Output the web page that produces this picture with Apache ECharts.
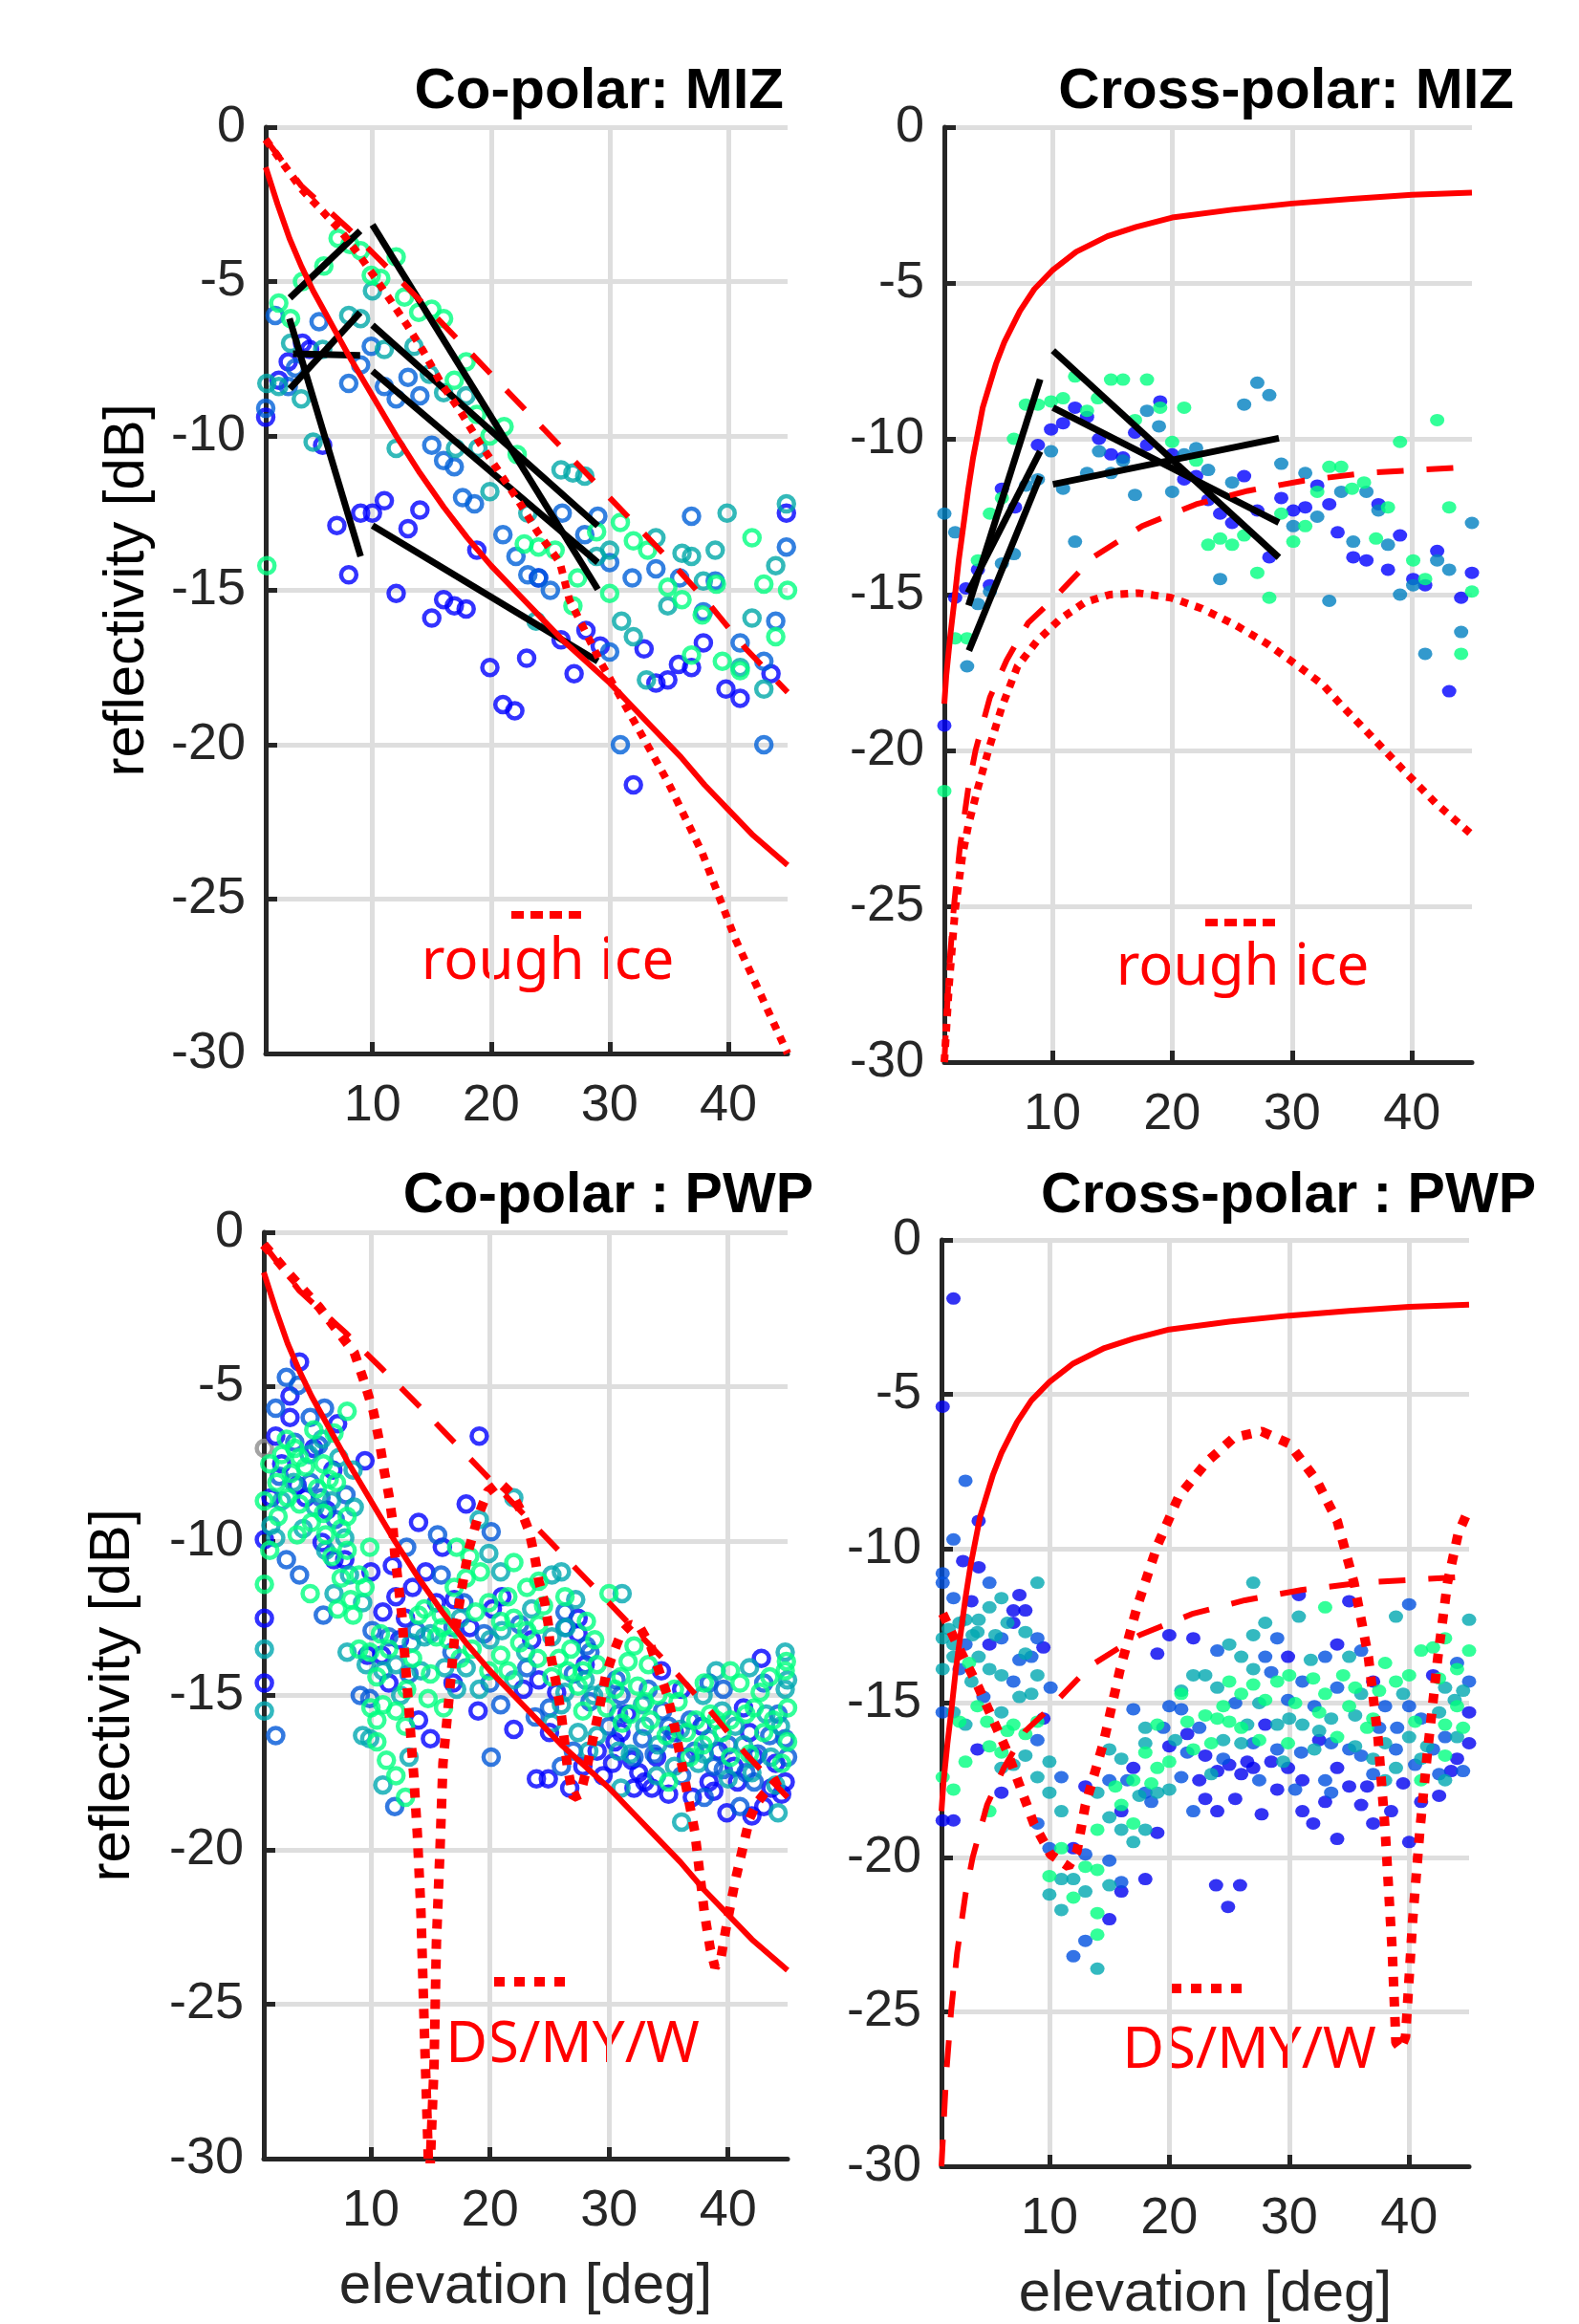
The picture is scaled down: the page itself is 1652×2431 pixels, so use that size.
<!DOCTYPE html>
<html><head><meta charset="utf-8">
<script src="https://cdn.jsdelivr.net/npm/echarts@6/dist/echarts.min.js"></script>
<style>html,body{margin:0;padding:0;background:#fff}#c{width:1652px;height:2431px}</style>
</head><body><div id="c"></div>
<script>
// ---------- ticks ----------
const xTicks = [10, 20, 30, 40];
const titles = ['Co-polar: MIZ', 'Cross-polar: MIZ', 'Co-polar : PWP', 'Cross-polar : PWP'];

// ---------- model curves [elevation, dB] ----------
const coSolid = [[1,-1.3],[2,-2.5],[3,-3.6],[4,-4.5],[5,-5.3],[6,-6.0],[7,-6.7],[8,-7.4],[10,-8.7],[12,-10.0],[14,-11.2],[16,-12.3],[18,-13.3],[20,-14.2],[22,-15.0],[24,-15.8],[26,-16.6],[28,-17.3],[30,-18.0],[32,-18.8],[34,-19.6],[36,-20.4],[38,-21.3],[40,-22.1],[42,-22.9],[45,-23.9]];
const coDashed = [[1,-0.4],[4,-1.9],[8,-3.3],[11,-4.45],[14.5,-5.8],[18,-7.2],[21,-8.4],[24.5,-9.8],[28,-11.2],[32,-12.8],[35,-14],[38.5,-15.5],[41.5,-16.9],[45,-18.3]];
const coDottedRough = [[1,-0.4],[4,-2.0],[7.2,-3.3],[8.8,-4.1],[10.2,-4.86],[11.5,-5.6],[12.9,-6.4],[14.2,-7.2],[15.8,-8.3],[17.4,-9.2],[19,-10.2],[20.65,-11.15],[22.3,-12.1],[23.9,-13.1],[25.8,-14.1],[26.6,-15.3],[29.2,-17.3],[32,-19.2],[34.9,-21.2],[37.8,-23.5],[40.6,-26.3],[45,-30]];
const crossSolid = [[1,-18.5],[1.16,-17.6],[1.5,-16.3],[1.82,-15.25],[2.2,-13.9],[2.62,-12.7],[3,-11.6],[3.4,-10.6],[4.2,-9.0],[5.3,-7.6],[6,-6.9],[7.3,-5.9],[8.5,-5.2],[10,-4.6],[12,-4.0],[14.6,-3.5],[17,-3.2],[20,-2.9],[25,-2.65],[30,-2.45],[35,-2.3],[40,-2.17],[45,-2.1]];
const crossDashed = [[1,-30],[1.4,-27],[1.8,-25],[2.3,-23.1],[3,-21.2],[3.6,-20],[4.8,-18.3],[6.2,-17.1],[8,-15.9],[10.2,-15.1],[13.4,-13.8],[17.5,-12.8],[22,-12.1],[26.3,-11.67],[31,-11.34],[36,-11.1],[40.5,-11.0],[45,-10.9]];
const crossDottedRough = [[1,-30],[1.4,-27.5],[1.9,-25.1],[2.5,-23.4],[3,-22.4],[3.8,-21.2],[4.75,-19.9],[5.8,-18.6],[7.1,-17.3],[8.7,-16.5],[10.6,-15.8],[12.7,-15.25],[14.8,-15.0],[17.2,-14.95],[19.9,-15.1],[22.5,-15.45],[25.2,-15.96],[27.9,-16.57],[30.5,-17.29],[32.6,-17.9],[34,-18.5],[36.5,-19.5],[39.2,-20.6],[42,-21.7],[45,-22.7]];
const coDottedPWP = [[1,-0.4],[3,-1.3],[5.6,-2.4],[7.5,-3.35],[8.6,-3.9],[9.4,-4.8],[10.2,-5.8],[10.7,-6.75],[11.1,-7.7],[11.5,-8.5],[11.8,-9.3],[12.0,-10.4],[12.3,-11.4],[12.6,-12.4],[12.8,-13.5],[13.0,-14.5],[13.2,-15.5],[13.4,-16.6],[13.6,-17.6],[13.9,-19.5],[14.2,-22],[14.5,-26],[14.9,-31],[15.3,-27],[15.5,-23],[15.8,-20],[16.05,-17.2],[16.6,-14.9],[17.1,-12.8],[17.65,-11.5],[18.2,-10.3],[19,-9.2],[19.8,-8.4],[20.8,-8.1],[21.9,-8.5],[22.7,-9.1],[23.3,-9.7],[23.8,-10.6],[24.1,-11.3],[24.6,-12.0],[24.9,-12.7],[25.1,-13.7],[25.55,-14.6],[25.95,-15.5],[26.2,-16.3],[26.5,-17.3],[27,-18.3],[27.6,-18.2],[28.1,-17.4],[28.6,-16.5],[29.2,-15.4],[29.7,-14.4],[30.2,-13.8],[31.0,-13.0],[31.8,-12.7],[32.6,-12.8],[33.5,-13.4],[34.2,-14.2],[34.9,-15],[35.5,-16],[36,-17],[36.6,-18.2],[37.2,-19.4],[37.6,-20.7],[38,-22],[38.5,-23.2],[38.9,-23.8],[39.4,-23.5],[39.8,-22.6],[40.2,-21.8],[40.6,-21],[41.2,-20],[41.8,-19],[42.4,-18.5],[43,-18.2],[44,-17.8],[45,-17.6]];
const crossDottedPWP = [[1.1,-12.1],[2.3,-13.1],[4.1,-14.5],[6.4,-16.5],[8.7,-18.9],[10.1,-19.9],[11.6,-20.3],[12.3,-19.8],[13,-18.3],[14.5,-16.3],[15.9,-13.9],[17.3,-11.9],[19,-9.9],[20.8,-8.3],[23.1,-7.2],[25.4,-6.4],[27.7,-6.2],[30,-6.6],[32.3,-7.8],[34,-9.1],[35.4,-11.1],[36.6,-13.5],[37.4,-16.1],[38,-19.1],[38.6,-23.1],[38.9,-26.0],[39.3,-26.2],[39.7,-25.8],[40.3,-22],[40.9,-19.1],[41.5,-16.7],[42.4,-13.5],[43.2,-11.1],[44.1,-9.5],[45,-8.7]];

// ---------- black fit segments [x1, y1, x2, y2] ----------
const fitsCoMIZ = [[3.04,-5.53,8.96,-3.36],[3.04,-8.47,8.96,-6.0],[3.3,-7.34,8.96,-7.39],[3.0,-6.2,9.0,-13.9],[10.0,-3.16,29.0,-14.97],[10.0,-6.41,29.0,-12.91],[10.0,-7.9,29.0,-14.1],[10.0,-12.9,29.0,-17.3]];
const fitsCrossMIZ = [[3.02,-15.35,8.99,-8.09],[3.05,-16.8,8.99,-11.2],[2.97,-14.94,8.99,-10.4],[10.06,-7.17,28.9,-13.81],[10.06,-9.0,28.9,-12.69],[10.06,-11.46,28.9,-9.98]];

// ---------- measurements: Co-polar MIZ (open circles) ----------
const coMIZ_blue = [[1,-9.4],[2.1,-8.2],[2.9,-7.6],[4.1,-7.0],[4.7,-7.2],[5.8,-10.3],[7,-12.9],[8,-14.5],[9,-12.5],[10,-12.5],[11,-12.1],[12,-15.1],[13,-13],[14,-12.4],[15,-15.9],[16,-15.3],[16.9,-15.5],[17.9,-15.6],[18.8,-13.7],[19.9,-17.5],[21,-18.7],[22,-18.9],[23,-17.2],[24,-14.6],[25.9,-16.6],[27,-17.7],[28,-16.3],[29.2,-16.8],[32,-21.3],[32.9,-16.9],[33.9,-18],[34.9,-17.9],[35.8,-17.4],[36.9,-17.5],[39.8,-18.2],[41,-18.5],[43.6,-17.7],[44.9,-12.5],[37.9,-16.7]];
const coMIZ_mid = [[1.8,-6.1],[5.5,-6.3],[8,-8.3],[9,-7.7],[9.9,-7.1],[11,-8.4],[12,-8.8],[13,-8.1],[14,-8.7],[15,-10.3],[16,-10.8],[16.9,-11],[17.6,-12],[18.6,-12.2],[21,-13.2],[22.1,-13.9],[23.1,-14.5],[24,-14.6],[25,-15],[26,-12.5],[27.9,-13.2],[29,-12.6],[30,-14.1],[30,-17],[31.9,-14.6],[33.9,-14.3],[35.9,-14.6],[36.9,-12.6],[37.9,-15.7],[38.9,-14.7],[41,-16.7],[43,-17.3],[44,-16],[44.9,-13.6],[43,-20],[30.9,-20],[1,-9.1],[2.9,-8.4],[3.5,-7.8]];
const coMIZ_teal = [[10,-5.3],[8,-6.1],[9,-6.2],[3.1,-7.0],[4,-8.8],[5,-10.2],[1.1,-8.3],[2.1,-8.4],[5.8,-7.2],[11,-7.2],[12,-10.4],[13.5,-7.1],[14.8,-8.0],[16,-8.6],[17,-10.4],[18.9,-10.4],[17.9,-8.7],[19.9,-11.8],[23.1,-12.5],[23.8,-16],[25.9,-11.1],[26.9,-11.2],[27.9,-11.3],[28.9,-13.9],[30,-13.7],[31,-16],[32,-16.5],[33.1,-17.9],[33.9,-13.3],[34.9,-15.5],[36.1,-13.8],[36.9,-13.9],[37.9,-14.7],[38.9,-13.7],[39.9,-12.5],[41,-17.5],[42,-15.9],[43,-18.2],[44,-14.2],[44.9,-12.2]];
const coMIZ_green = [[7.1,-3.6],[8.1,-3.8],[9,-4.0],[5.9,-4.5],[4.1,-5.0],[2.1,-5.7],[3.1,-6.2],[9.9,-4.8],[10.7,-4.9],[12,-4.2],[12.7,-5.5],[13.9,-6.0],[15,-5.9],[16,-6.2],[16.9,-8.2],[17.9,-7.6],[18.8,-9.3],[19.9,-10.0],[21.1,-9.7],[22.2,-10.6],[22.8,-13.5],[24,-13.6],[25.4,-13.7],[27.3,-14.6],[26.9,-15.5],[28.9,-13.1],[30,-15.1],[30.9,-12.8],[32,-13.4],[33.2,-13.7],[34.9,-14.9],[36.1,-15.3],[36.9,-17.1],[37.8,-15.8],[39,-14.8],[39.5,-17.3],[41,-17.6],[42,-13.3],[43,-14.8],[44,-16.5],[45,-15],[1.1,-14.2]];

// ---------- measurements: Cross-polar MIZ (filled dots) ----------
const crossMIZ_blue = [[1,-19.2],[1.9,-15.1],[2.8,-14.8],[3.8,-14.2],[4.8,-14.7],[5.8,-11.6],[6.9,-12.2],[8.8,-10.2],[9.9,-9.7],[10.9,-9.5],[11.9,-9.0],[12.9,-9.3],[13.9,-10],[14.9,-10.5],[15.9,-10.6],[16.9,-9.8],[17.9,-10.2],[19,-8.8],[20,-10.5],[21,-11.3],[22,-11.2],[23,-11.96],[24,-12.4],[25,-12.7],[26,-11.2],[27.1,-12.3],[28.1,-13.8],[29.1,-11.9],[30.1,-12.3],[31.1,-12.2],[32.1,-11.5],[33.1,-12.1],[33.8,-13],[35.1,-13.8],[36.2,-13.9],[37.2,-12.1],[38,-14.2],[39,-13.1],[40.1,-14.5],[41.1,-14.7],[42.1,-13.6],[43.1,-18.1],[44.1,-15.1],[45,-14.3]];
const crossMIZ_teal = [[1,-12.4],[1.9,-13],[2.9,-17.3],[3.8,-15.3],[4.8,-14.9],[5.8,-14],[6.8,-13.7],[7.8,-11.5],[8.8,-11.3],[9.9,-10.4],[10.9,-11.6],[11.9,-13.3],[12.9,-11.1],[13.9,-10.4],[14.9,-11.1],[15.9,-10.7],[16.9,-11.8],[17.9,-9.1],[18.9,-9.6],[20,-11.7],[21,-10.5],[22,-10.3],[23,-11],[24,-14.5],[25,-11.4],[26,-8.9],[27.1,-8.2],[28.1,-8.6],[29.1,-10.8],[30.1,-12.8],[31.1,-11.1],[32.1,-12.5],[33.1,-15.2],[34.1,-11.7],[35.1,-13.3],[36.2,-11.7],[37.2,-12.3],[38,-13.4],[39,-15],[40.1,-14.7],[41.1,-16.9],[42.1,-13.9],[43.1,-14.2],[44.1,-16.2],[45,-12.7]];
const crossMIZ_green = [[1.9,-16.4],[2.9,-16.4],[1,-21.3],[3.8,-13.9],[4.8,-12.4],[5.8,-11.9],[6.8,-10],[7.8,-8.9],[8.8,-8.9],[9.9,-8.8],[10.9,-8.7],[11.9,-8.0],[12.9,-9.1],[13.8,-8.7],[14.9,-8.1],[15.9,-8.1],[16.9,-9.4],[17.9,-8.1],[19,-9.0],[20,-10.1],[21,-9.0],[22,-10.7],[23,-13.4],[24,-13.2],[25,-13.4],[26,-13.1],[27.1,-14.3],[28.1,-15.1],[29.1,-12.4],[30.1,-13.3],[31.1,-12.8],[32.1,-11.7],[33.1,-10.9],[34.1,-10.9],[35,-11.6],[36,-11.4],[37,-13.2],[38,-12.2],[39,-10.1],[40.1,-13.9],[41.1,-14.5],[42.1,-9.4],[43.1,-12.2],[44.1,-16.9],[45,-14.9]];

// ---------- measurements: Co-polar PWP (open circles) ----------
const coPWP_gray = [[1.05,-7.0]];
const coPWP_blue = [[4.0,-4.2],[3.2,-6.0],[7.2,-6.2],[9.5,-7.4],[1.05,-9.95],[5.9,-10.05],[6.9,-10.6],[10,-11.0],[1.05,-12.5],[1.05,-14.6],[11,-12.3],[11.8,-10.8],[14,-9.4],[12.1,-11.8],[12.9,-12.5],[16,-10.2],[18,-8.8],[19.1,-6.6],[27.4,-12.5],[9.7,-13.7],[10.9,-13.7],[18.3,-12.8],[27.4,-13],[16.9,-14.6],[24.1,-14.5],[15,-16.4],[23.9,-17.7],[30.3,-17.2],[31.9,-17.1],[31,-16.2],[33,-17.8],[36.1,-14.8],[37,-18.3],[39.9,-18.8],[42.2,-17],[43.6,-18],[38.4,-17.8],[33.6,-18],[32.1,-18],[29.5,-17.6],[24.9,-17.7],[26.7,-18],[41.3,-15.4],[42.8,-13.8],[34.4,-14.2],[2.5,-7.5],[3.8,-8.2],[5.2,-7.0],[6.3,-9.0],[13.5,-11.5],[15.5,-12.0],[21,-11.8],[23.5,-13.2],[28,-14.0],[35.5,-16.2],[40.5,-17.3],[44,-17.2],[2,-6.6],[3.2,-5.3],[6.8,-7.7],[12.4,-13.2],[14.6,-11],[17,-11.9],[20.2,-12.2],[22.8,-14.8],[25.6,-14.9],[29,-16.8],[31.5,-15.6],[34,-17],[37.8,-16],[39.2,-16.8],[42,-18.9],[44.5,-18.2],[30.5,-16.5],[32.5,-17.5],[35,-18.2],[36.5,-17],[38.8,-18.1],[40.8,-17.8],[43,-18.6],[44.8,-17.8],[41.8,-16.2],[1.6,-8.6],[4.5,-8.6],[7.8,-10.6],[11.5,-14.6],[14,-15.8],[19,-15.5],[22,-16.1],[25,-16.2],[27.8,-17.3]];
const coPWP_mid = [[2.9,-4.7],[3.9,-4.95],[2.0,-5.7],[4.9,-6.0],[6.1,-5.7],[4.9,-8.1],[2.9,-10.6],[4,-11.1],[6,-12.4],[10.1,-12.9],[13,-10.2],[15.6,-9.8],[20.1,-9.7],[26.3,-12.3],[16.9,-12.8],[26.3,-12.8],[28.4,-13.6],[9.9,-15.1],[20.9,-15.3],[23.1,-14.1],[28.4,-15.2],[30.6,-14.5],[20.1,-17],[26,-17.3],[2,-16.3],[12,-18.6],[9.1,-15],[31,-15],[32.1,-17],[35,-16],[36.1,-17.6],[39.6,-14.8],[39.6,-17.4],[41,-18.6],[43,-14.6],[44.8,-16.4],[35.3,-16.4],[42.2,-17.8],[38.4,-14.6],[33.3,-14.8],[28.1,-13.4],[15.9,-11.1],[3.6,-6.8],[5.6,-6.9],[7.9,-8.5],[11.5,-13.1],[13.8,-12.9],[17.8,-12],[19.5,-13],[22.5,-12.7],[25,-15.4],[27,-16.8],[30,-16],[33.8,-16.9],[36.8,-15.8],[38,-18.3],[41.5,-17.5],[43.5,-16.3],[45,-17],[30.8,-15.6],[32.8,-16.4],[34.5,-15.5],[37.2,-16.8],[40,-16.6],[42.5,-16.9],[44.2,-15.6],[38.8,-17.3],[2.3,-7.9],[5.8,-8.6],[7,-9.3],[13.2,-14.3],[16.8,-13.6],[20,-14.6],[23.8,-15.7],[27,-14.3]];
const coPWP_teal = [[5.9,-6.7],[3.5,-8.1],[8.5,-7.7],[5.3,-8.9],[6.7,-8.7],[8.6,-8.9],[2,-9.9],[6.9,-11.7],[8.2,-11.1],[9.3,-12],[1.05,-13.5],[1.05,-15.5],[8,-13.6],[19.1,-9.3],[22,-8.6],[19.9,-10.4],[20.9,-11],[25.2,-11.1],[26,-11],[12.1,-14],[13.4,-13.3],[25.2,-13.1],[9.6,-14],[11,-14.2],[14.2,-14.2],[18,-14.1],[19.1,-14.8],[22,-14.5],[26.3,-14.9],[29.5,-14.9],[9.9,-16.4],[13.2,-17],[25.2,-15.9],[27.4,-16.2],[29,-16.3],[11,-17.9],[9.3,-16.3],[31.1,-11.7],[31,-18],[34.1,-16.6],[36.1,-19.1],[37.9,-15],[39,-14.2],[41.3,-16.6],[43.6,-17],[44.2,-18.8],[44.8,-13.6],[44.8,-14.8],[33,-16],[38.4,-16.4],[40.6,-16],[28.7,-15],[26.4,-12.8],[27.2,-11.9],[2.5,-8.7],[4.3,-9.6],[6.2,-10.3],[7.3,-7.3],[14.5,-13.1],[16.2,-14.1],[17.5,-12.5],[21,-12.9],[23.5,-12.2],[28,-14.5],[30.8,-16.8],[32.8,-15.3],[35.5,-17.3],[37.5,-17.2],[39.5,-15.5],[41.8,-14.1],[43.2,-15.6],[44.4,-16],[31.8,-16.9],[34,-17.6],[36,-16.1],[38,-16.9],[40,-17.7],[42,-17.5],[44,-17.9],[45,-14.5],[1.6,-9.5],[4.8,-7.2],[7.8,-9.9],[12.5,-15],[15,-13],[17.2,-14.8],[20,-13.2],[23,-13.6],[26,-15.3],[28.3,-16.8]];
const coPWP_green = [[8,-5.8],[2.9,-6.7],[4,-7.3],[6.9,-6.5],[6,-7.5],[2.1,-8.1],[1.05,-8.7],[7.1,-8.1],[4,-8.8],[8,-9.2],[6,-9.1],[4.9,-11.7],[8,-10.3],[9.9,-10.2],[9,-11.1],[8.3,-11.9],[8.5,-12.4],[1.05,-11.4],[9,-13.5],[14,-12.4],[17.2,-10.2],[18.3,-10.5],[22,-10.7],[23.1,-11.5],[24.1,-11.3],[30,-11.7],[26.3,-11.8],[10.8,-13],[14.5,-12.2],[15.9,-12.4],[18.8,-12.3],[19.9,-12],[20.9,-12.6],[22,-12.5],[23.1,-12.9],[24.1,-12.7],[9.9,-13.6],[10.5,-14.4],[10.5,-15.8],[11,-15.3],[12.1,-15.5],[12.9,-16],[15,-14.3],[16.1,-15.4],[19.9,-14.2],[20.9,-13.7],[25.2,-14.4],[27.4,-14.7],[31.6,-13.9],[32.4,-14.7],[10.5,-16.5],[11.3,-17.1],[12.1,-17.6],[31.1,-15.9],[12.9,-18.3],[10,-15.4],[32.1,-13.4],[33.3,-14],[34.1,-15],[37.3,-15.8],[40.2,-14.2],[41,-14.6],[40.2,-15.8],[42.2,-15.4],[43,-16.2],[45,-15.4],[37.9,-16.6],[35,-17.8],[31.8,-15.6],[36.8,-17],[40.2,-17],[29.8,-15.4],[27.8,-14.2],[28.1,-12.6],[44.8,-14.2],[1.5,-7.5],[2.5,-7.2],[3.3,-7.8],[4.5,-7.6],[5.5,-8.3],[3,-8.6],[2.2,-9.2],[6.5,-8.0],[7.5,-9.6],[5,-9.4],[3.8,-9.8],[1.5,-10.3],[6.7,-10.5],[7.5,-11.2],[9.5,-11.5],[17,-11.5],[18,-11.2],[19.2,-11.0],[21.5,-11.8],[22.5,-13.3],[24.5,-12.1],[25.8,-13.8],[26.8,-13.5],[27.8,-15.5],[29,-14.0],[30.5,-14.8],[16.5,-13.2],[17.5,-13.8],[13.5,-13.8],[14.8,-15.1],[15.5,-13.1],[33.5,-15.8],[34.8,-16.3],[35.8,-15.2],[36.5,-16.2],[38.5,-15.6],[39.5,-16.2],[41.8,-16.9],[42.7,-14.9],[43.8,-15.8],[44.5,-17.2],[44.9,-13.9],[31,-14.4],[33,-15.2],[35.5,-14.8],[38,-14.6],[39,-15.8],[41.5,-15.6],[43.5,-14.4],[45,-16.5],[3.6,-7.0],[5.2,-6.4],[6.2,-9.8],[7.2,-12.2],[11.5,-13.5],[13,-14.8],[16,-12.8],[18.5,-13.5],[21.5,-14.2],[24,-13.8],[26.5,-14.2],[28.8,-13.2]];

// ---------- measurements: Cross-polar PWP (filled dots) ----------
const crossPWP_blue = [[2,-1.9],[1.1,-5.4],[4.1,-9.1],[2.8,-10.4],[4.1,-10.6],[7,-12],[8,-12],[5,-13.1],[7,-12.4],[4,-16.5],[6,-17.9],[1.1,-18.8],[2,-18.8],[12,-19.7],[15,-22],[16,-21.1],[18,-20.7],[13,-17.7],[20,-16.4],[23,-16.7],[23,-18.1],[24,-17.2],[25,-17],[26,-17.3],[27,-17.1],[28,-15.7],[29.9,-13.5],[29.9,-17.1],[31.1,-17.5],[31.1,-18.5],[32,-18.9],[34,-13.1],[34,-17.1],[34,-19.4],[35,-11.7],[35,-17.7],[37,-14.3],[37,-18.9],[40,-19.5],[42,-14.1],[45,-16.3],[23.9,-20.9],[25.9,-20.9],[24.9,-21.6],[27.7,-18.6],[30.8,-11.5],[22,-12.9],[20,-12.8],[19,-13.4],[17,-17.1],[21.5,-16],[24,-18.5],[26.5,-16.9],[28.5,-16.9],[32.5,-16.2],[36.5,-17.7],[38.5,-18.5],[41,-18.2],[43.5,-17.2],[45,-15.3],[9.5,-15.5],[16,-18.5],[19,-19.2],[22.5,-17.5],[25.5,-18.1],[29,-17.8],[33,-18.2],[36,-18.3],[39.5,-17.6],[42.5,-18],[44,-16.8],[3.5,-11.7],[7.5,-11.5],[9.5,-13.2]];
const crossPWP_mid = [[3,-7.8],[2,-9.7],[1.1,-10.8],[5,-11.1],[1.1,-11.1],[2,-11.6],[3,-13.1],[6,-12.9],[9,-12.9],[7,-14.3],[10.1,-14.5],[1.1,-15.3],[9,-16.2],[11,-17.4],[9,-18.9],[10,-19.7],[13,-22.7],[12,-23.2],[15,-20.1],[16,-20.8],[13,-19.9],[15,-17.5],[17,-15.2],[18,-17.9],[20,-15.1],[21,-15.2],[21,-17.4],[22,-18.5],[24,-13.3],[27,-16.3],[28,-13.5],[29,-12.9],[29,-16.5],[29.9,-14.9],[31.1,-14.3],[32.1,-15.1],[33,-13.5],[33,-17.5],[34,-14.5],[36,-13.3],[36,-16.7],[38,-15.1],[38.9,-16.5],[40,-11.8],[40,-15.1],[41,-15.5],[42,-16.5],[44,-13.7],[45,-14.3],[16.5,-17.5],[19.5,-15.8],[22.5,-15.8],[25.5,-15],[28.5,-14],[31,-16.6],[33.5,-16.3],[35,-16.5],[37.5,-15.8],[39,-15.8],[42.5,-17.3],[44.5,-17.2],[7.5,-13.6],[18.5,-18.2],[21.5,-16.6],[24.5,-16.8],[27.5,-17.5],[30.5,-17.8],[33.5,-17.9],[37,-17.3],[40.5,-17],[43,-16.1],[2.5,-13.9],[4.5,-14.8],[8.5,-13.5]];
const crossPWP_teal = [[9,-11.1],[5,-11.9],[6,-11.6],[4.1,-12.3],[3,-12.3],[1.1,-12.9],[2,-13.1],[4,-12.7],[8,-12.7],[1.1,-13.9],[2,-13.5],[4.1,-13.5],[5,-13.9],[6,-14.1],[8,-13.4],[9,-14.1],[2,-15.3],[3,-15.7],[6,-15.3],[6,-17.1],[7,-17],[8,-16.7],[9,-17.4],[10,-16.9],[10,-17.9],[11,-18.5],[10,-21.2],[11,-20.7],[11,-21.7],[12,-20.7],[13,-21.1],[14,-23.6],[15,-20.9],[14,-17.9],[15,-18.7],[15,-16.5],[16,-19.1],[17,-19.5],[18,-16.3],[18,-19.1],[19,-17.9],[20,-17.8],[22,-14.1],[24,-14.5],[25,-13.1],[26,-13.5],[26,-16.3],[27,-11.1],[27,-12.8],[27,-13.9],[28,-12.4],[29,-15.7],[30.8,-12.2],[31.1,-15.7],[32.1,-16.5],[35,-13.5],[36,-14.7],[38,-17.5],[38.9,-12.2],[38.9,-17.1],[40,-16.1],[43,-14.5],[43,-17.5],[44,-16.1],[45,-12.3],[16,-16.8],[18,-15.8],[21,-14.6],[23,-14.1],[24.5,-16.2],[27.5,-15],[30,-15.5],[31.8,-13.6],[33.5,-15.5],[35.5,-16.4],[37,-16.8],[39.5,-14.7],[41.5,-16.4],[42.5,-15.3],[44.5,-14.6],[2.5,-12.4],[3.5,-14.3],[5.5,-12.8],[8.5,-14.7],[17.5,-18],[20.5,-16.2],[23.5,-17.3],[26.5,-15.7],[29.5,-16.9],[32.5,-15.9],[35.5,-15.4],[38,-16.3],[41,-16.8],[43.8,-14.9],[1.6,-12.6],[3.6,-12.8],[6.5,-12.4],[7.5,-14.8]];
const crossPWP_green = [[3.3,-13.7],[4,-15.1],[4.8,-15.6],[7,-15.7],[8,-16],[1.1,-17.4],[2,-17.8],[3,-16.9],[5,-16.4],[5,-18.5],[11,-19.7],[10,-20.6],[12,-21.3],[13,-20.3],[14,-20.4],[14,-21.8],[14,-22.5],[14,-19.1],[16,-18.3],[17,-18.9],[17,-17.5],[19,-17.1],[19,-15.7],[22,-16.5],[23,-15.4],[24,-15.5],[25,-14.3],[25,-15.6],[26,-14.7],[28,-14.9],[29,-14.3],[29.9,-16.3],[33,-11.9],[33,-14.7],[34,-16.1],[35,-15.1],[37,-15.5],[38.9,-14.3],[41,-13.3],[41,-17.5],[43,-12.9],[43,-15.7],[43,-16.7],[44,-15.1],[45,-13.3],[15.5,-17.7],[18,-16.6],[20,-16.9],[21,-14.7],[23.5,-16.3],[26,-15.8],[27,-14.4],[30.5,-15],[32,-14.2],[34.5,-14.1],[36.5,-15.8],[38,-13.7],[40,-14.1],[42,-13.2],[44,-13.9],[6.5,-15.9],[18.5,-17.6],[21.5,-15.6],[24.5,-15.1],[27.5,-16.2],[30,-14.1],[32.5,-15.3],[35.5,-14.5],[37.5,-14.6],[40.5,-15.6],[42.5,-14.2],[44.5,-15.8],[2.5,-15.6],[6,-16.6],[9,-15.6]];

// ================= chart construction =================
const RED = '#ff0000', AX = '#262626';
const grids = [
  {left: 278, top: 133, width: 546, height: 969},
  {left: 988, top: 133, width: 552, height: 978},
  {left: 276, top: 1289, width: 548, height: 969},
  {left: 985, top: 1297, width: 552, height: 973}
];
function xAx(i) {
  const bottom = i >= 2;
  return {
    type: 'value', gridIndex: i, min: 1, max: 45,
    axisLine: {onZero: false, lineStyle: {color: AX, width: 5}},
    axisTick: {inside: true, length: 12, customValues: xTicks, lineStyle: {color: AX, width: 5}},
    axisLabel: {customValues: xTicks, margin: 28, fontFamily: 'Liberation Sans', fontSize: 54, color: AX},
    splitLine: {show: true, lineStyle: {color: '#dedede', width: 5}},
    name: bottom ? 'elevation [deg]' : '', nameLocation: 'middle', nameGap: 104,
    nameTextStyle: {fontFamily: 'Liberation Sans', fontSize: 60, color: AX}
  };
}
function yAx(i) {
  const left = (i === 0 || i === 2);
  return {
    type: 'value', gridIndex: i, min: -30, max: 0, interval: 5,
    axisLine: {lineStyle: {color: AX, width: 5}},
    axisTick: {inside: true, length: 12, lineStyle: {color: AX, width: 5}},
    axisLabel: {margin: 21, fontFamily: 'Liberation Sans', fontSize: 54, color: AX},
    splitLine: {show: true, lineStyle: {color: '#dedede', width: 5}},
    name: left ? 'reflectivity [dB]' : '', nameLocation: 'middle', nameRotate: 90,
    nameGap: i === 0 ? 115 : 128,
    nameTextStyle: {fontFamily: 'Liberation Sans', fontSize: 60, color: '#000'}
  };
}
const series = [];
function ring(i, data, color) {
  series.push({type: 'scatter', xAxisIndex: i, yAxisIndex: i, data, symbol: 'circle', symbolSize: 16,
    itemStyle: {color: 'rgba(0,0,0,0)', borderColor: color, borderWidth: 4.5}, z: 2, silent: true});
}
function dot(i, data, color) {
  series.push({type: 'scatter', xAxisIndex: i, yAxisIndex: i, data, symbol: 'circle', symbolSize: [15, 13],
    itemStyle: {color}, z: 2, silent: true});
}
function curve(i, data, type, width) {
  series.push({type: 'line', xAxisIndex: i, yAxisIndex: i, data, showSymbol: false, symbol: 'none',
    lineStyle: {color: RED, width, type}, z: 5, silent: true, clip: true});
}
function fits(i, segs) {
  segs.forEach(s => series.push({type: 'line', xAxisIndex: i, yAxisIndex: i, data: [[s[0], s[1]], [s[2], s[3]]],
    showSymbol: false, symbol: 'none', lineStyle: {color: '#000', width: 7}, z: 4, silent: true}));
}
// panel 0: Co-polar MIZ
ring(0, coMIZ_blue, '#0000ff'); ring(0, coMIZ_mid, '#0060d8'); ring(0, coMIZ_teal, '#00a8a8'); ring(0, coMIZ_green, '#00ff80');
fits(0, fitsCoMIZ);
curve(0, coSolid, 'solid', 6); curve(0, coDashed, [28, 24], 6); curve(0, coDottedRough, [8, 8], 8);
// panel 1: Cross-polar MIZ
dot(1, crossMIZ_blue, '#0000ff'); dot(1, crossMIZ_teal, '#0080c0'); dot(1, crossMIZ_green, '#00ff80');
fits(1, fitsCrossMIZ);
curve(1, crossSolid, 'solid', 6); curve(1, crossDashed, [28, 24], 6); curve(1, crossDottedRough, [8, 8], 8);
// panel 2: Co-polar PWP
ring(2, coPWP_gray, '#8c8c8c'); ring(2, coPWP_blue, '#0000ff'); ring(2, coPWP_mid, '#0058d8'); ring(2, coPWP_teal, '#00a8b0'); ring(2, coPWP_green, '#00ff80');
curve(2, coSolid, 'solid', 6); curve(2, coDashed, [28, 24], 6); curve(2, coDottedPWP, [10, 11], 10);
// panel 3: Cross-polar PWP
dot(3, crossPWP_blue, '#0000f0'); dot(3, crossPWP_mid, '#0050e0'); dot(3, crossPWP_teal, '#00a8b0'); dot(3, crossPWP_green, '#00ff80');
curve(3, crossSolid, 'solid', 6); curve(3, crossDashed, [28, 24], 6); curve(3, crossDottedPWP, [10, 11], 10);

const titleFont = {fontFamily: 'Liberation Sans', fontWeight: 'bold', fontSize: 60, color: '#000', lineHeight: 60};
const titleFont2 = {fontFamily: 'Liberation Sans', fontWeight: 'bold', fontSize: 59, color: '#000', lineHeight: 60};
const annFont = '60px "Noto Sans"';
const option = {
  animation: false,
  backgroundColor: '#fff',
  title: [
    {text: titles[0], right: 832, top: 66, padding: 0, textStyle: titleFont},
    {text: titles[1], right: 68, top: 66, padding: 0, textStyle: titleFont},
    {text: titles[2], right: 801, top: 1222, padding: 0, textStyle: titleFont2},
    {text: titles[3], right: 45, top: 1222, padding: 0, textStyle: titleFont2}
  ],
  grid: grids,
  xAxis: [0, 1, 2, 3].map(xAx),
  yAxis: [0, 1, 2, 3].map(yAx),
  series,
  graphic: [
    {type: 'line', shape: {x1: 535, y1: 957, x2: 608, y2: 957}, style: {stroke: RED, lineWidth: 8, lineDash: [13, 7]}},
    {type: 'text', x: 573, y: 1007, style: {text: 'rough ice', fill: RED, font: annFont, align: 'center', verticalAlign: 'middle'}},
    {type: 'line', shape: {x1: 1261, y1: 965, x2: 1335, y2: 965}, style: {stroke: RED, lineWidth: 8, lineDash: [13, 7]}},
    {type: 'text', x: 1300, y: 1013, style: {text: 'rough ice', fill: RED, font: annFont, align: 'center', verticalAlign: 'middle'}},
    {type: 'line', shape: {x1: 517, y1: 2073, x2: 592, y2: 2073}, style: {stroke: RED, lineWidth: 10, lineDash: [11, 10]}},
    {type: 'text', x: 599, y: 2140, style: {text: 'DS/MY/W', fill: RED, font: annFont, align: 'center', verticalAlign: 'middle'}},
    {type: 'line', shape: {x1: 1225, y1: 2080, x2: 1299, y2: 2080}, style: {stroke: RED, lineWidth: 10, lineDash: [11, 10]}},
    {type: 'text', x: 1307, y: 2146, style: {text: 'DS/MY/W', fill: RED, font: annFont, align: 'center', verticalAlign: 'middle'}}
  ]
};
const chart = echarts.init(document.getElementById('c'), null, {renderer: 'canvas', width: 1652, height: 2431});
chart.setOption(option);
</script>
</body></html>
